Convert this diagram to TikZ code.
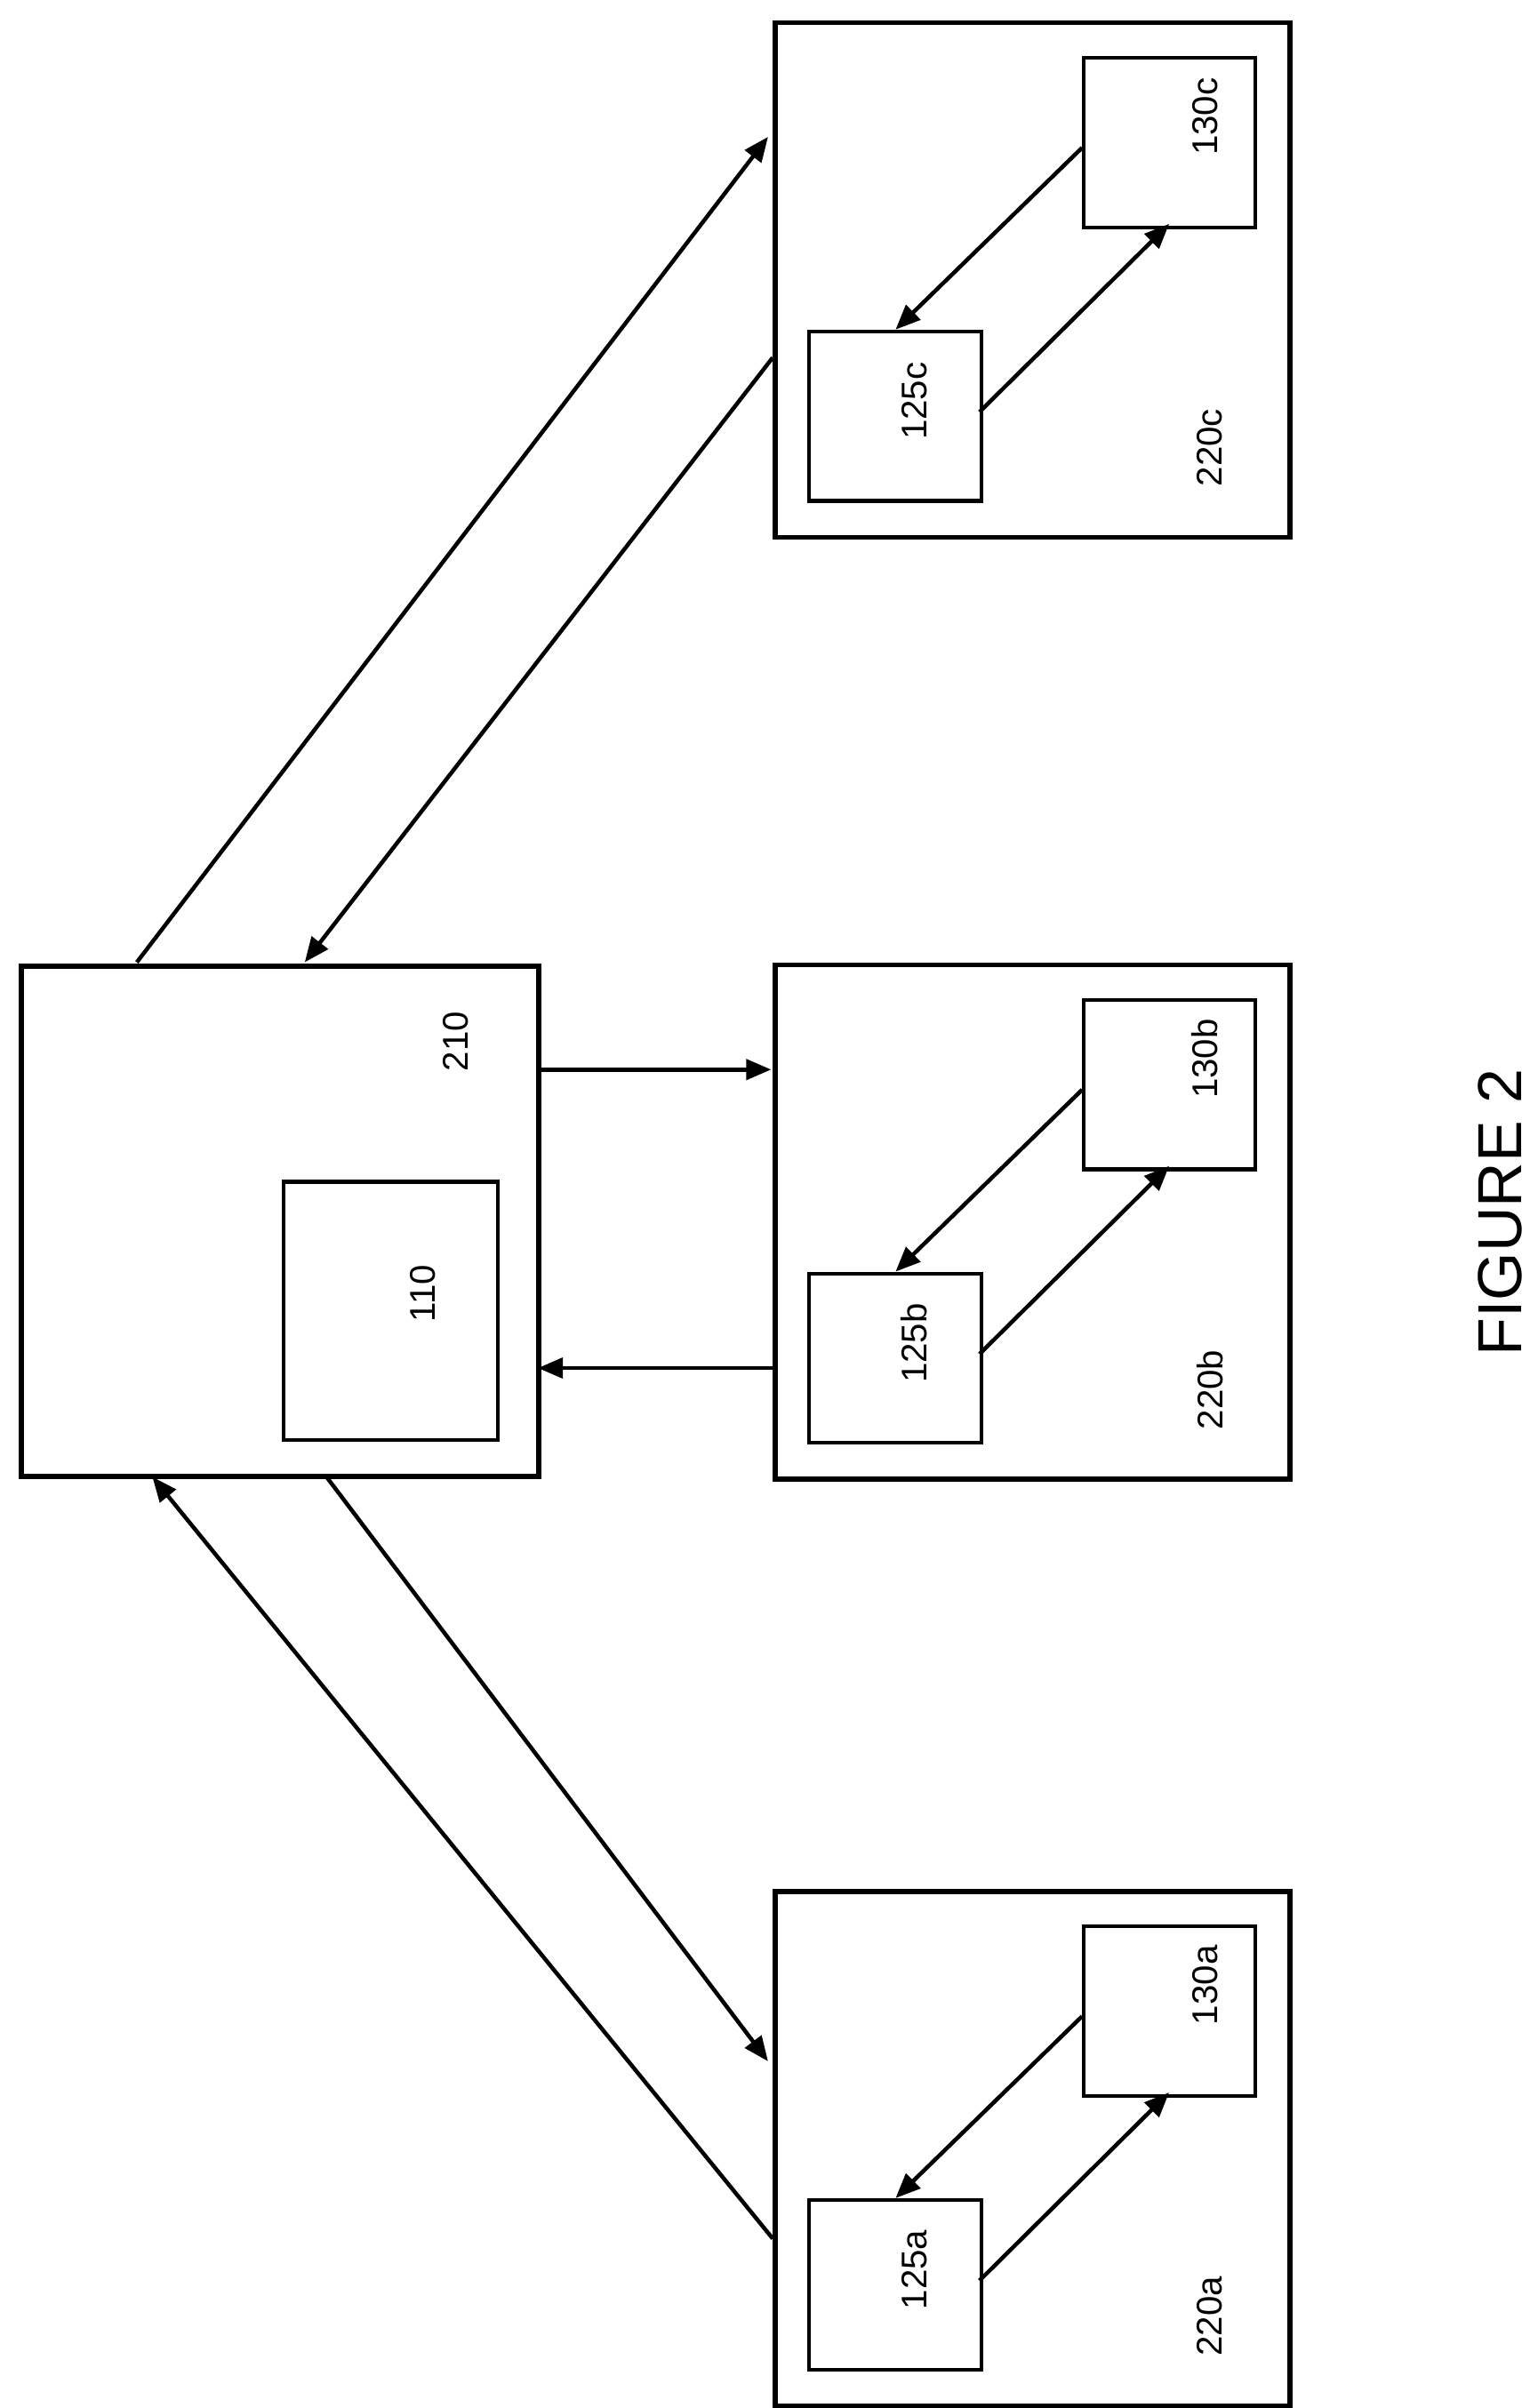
\documentclass[tikz,border=0pt]{standalone}
\usepackage{fontspec}
\setmainfont{Liberation Sans}
\usetikzlibrary{arrows.meta}
\begin{document}
\begin{tikzpicture}[x=0.5pt,y=-0.5pt,
  box/.style={draw,line width=1.6pt,inner sep=0pt,anchor=north west},
  sbox/.style={draw,line width=1.2pt,inner sep=0pt,anchor=north west},
  lab/.style={rotate=90,font=\fontsize{11.5}{12}\selectfont},
  arr/.style={line width=1.3pt,-{Triangle[length=8pt,width=6.5pt]}}]
\useasboundingbox (0,0) rectangle (984,1549);
% main
\node[box,minimum width=166.5pt,minimum height=164pt] (n210) at (12,620) {};
\node[sbox,minimum width=69pt,minimum height=83pt] (n110) at (181,759) {};
\node[lab] (l210) at (293,670) {210};
\node[lab] (l110) at (272,832) {110};
% clients
\foreach \s/\dy in {c/0,b/606,a/1202}{
  \node[box,minimum width=165.5pt,minimum height=165.5pt] (n220\s) at (497,13+\dy) {};
  \node[sbox,minimum width=55.5pt,minimum height=54.5pt] (n125\s) at (519,212+\dy) {};
  \node[sbox,minimum width=55pt,minimum height=54.5pt] (n130\s) at (696,36+\dy) {};
  \node[lab] (l125\s) at (588,258+\dy) {125\s};
  \node[lab] (l130\s) at (775,75+\dy) {130\s};
  \node[lab] (l220\s) at (778,288+\dy) {220\s};
  \coordinate (p1\s) at (696,95+\dy);
  \coordinate (p2\s) at (576,212+\dy);
  \coordinate (p3\s) at (630,265+\dy);
  \coordinate (p4\s) at (752,144+\dy);
  \draw[arr] (p1\s) -- (p2\s);
  \draw[arr] (p3\s) -- (p4\s);
}
\coordinate (c1) at (88,619); \coordinate (c2) at (494,88);
\coordinate (c3) at (497,230); \coordinate (c4) at (196,619);
\coordinate (b1) at (345,688); \coordinate (b2) at (496,688);
\coordinate (b3) at (497,880); \coordinate (b4) at (346,880);
\coordinate (a1) at (210,950); \coordinate (a2) at (494,1326);
\coordinate (a3) at (497,1440); \coordinate (a4) at (98,950);
\draw[arr] (c1) -- (c2);
\draw[arr] (c3) -- (c4);
\draw[arr] (b1) -- (b2);
\draw[arr] (b3) -- (b4);
\draw[arr] (a1) -- (a2);
\draw[arr] (a3) -- (a4);
\node[rotate=90,font=\fontsize{20}{22}\selectfont] (fig) at (965,780) {FIGURE 2};
\end{tikzpicture}
\end{document}
